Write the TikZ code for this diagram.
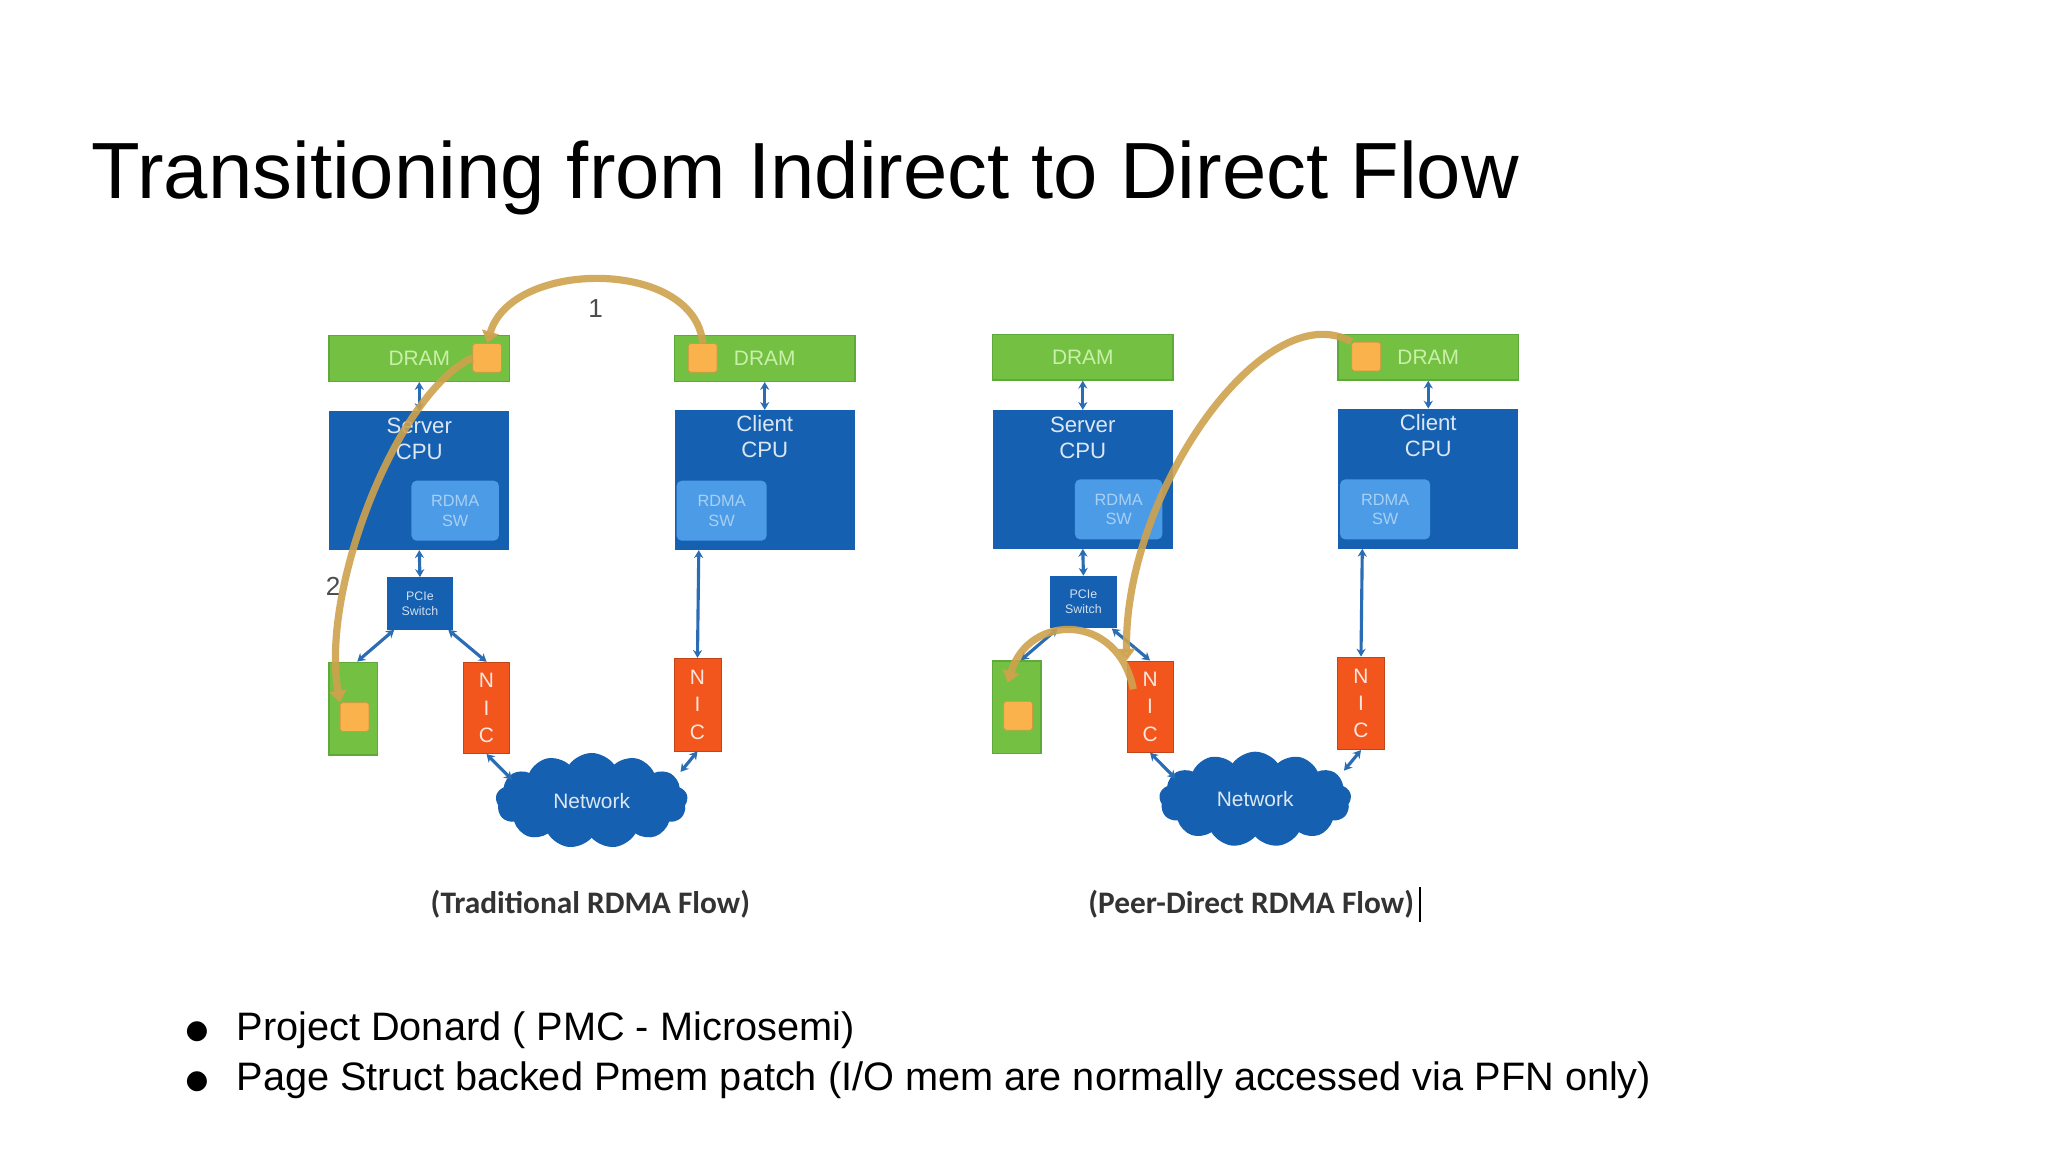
\documentclass[tikz,border=0pt]{standalone}
\usepackage{fontspec}
\setmainfont{Liberation Sans}
\newfontfamily\capfont{Carlito}
\newfontfamily\symfont{DejaVu Sans}
\usetikzlibrary{shapes.symbols,arrows.meta}
\definecolor{dgreen}{HTML}{74C043}
\definecolor{dgreenb}{HTML}{5FA83A}
\definecolor{lgtxt}{HTML}{C9F0A8}
\definecolor{cpublue}{HTML}{1560B0}
\definecolor{swblue}{HTML}{4C9BE6}
\definecolor{swtxt}{HTML}{A8D0F5}
\definecolor{nicor}{HTML}{F2561D}
\definecolor{sqor}{HTML}{F9B24C}
\definecolor{tan}{HTML}{CFA24E}
\definecolor{linkblue}{HTML}{2A6DB5}
\tikzset{
  greenbox/.style={draw=dgreenb,line width=1pt,fill=dgreen,inner sep=0,text=lgtxt,font=\fontsize{16}{18}\selectfont},
  cpubox/.style={fill=cpublue,inner sep=0,text=white!85!cpublue,font=\fontsize{17}{20}\selectfont,align=center},
  swbox/.style={fill=swblue,rounded corners=4pt,inner sep=0,text=swtxt,font=\fontsize{12.5}{15}\selectfont,align=center},
  pciebox/.style={fill=cpublue,inner sep=0,text=white!80!cpublue,font=\fontsize{9.5}{11.5}\selectfont,align=center},
  nicbox/.style={fill=nicor,draw=nicor!80!black,line width=0.6pt,inner sep=0,text=white!85!nicor,font=\fontsize{16}{21}\selectfont,align=center},
  sq/.style={fill=sqor,draw=sqor!85!black,line width=0.5pt,rounded corners=1.5pt,minimum width=22pt,minimum height=22pt,inner sep=0},
  netcloud/.style={cloud,cloud puffs=13,cloud puff arc=110,aspect=2,fill=cpublue,inner sep=0,minimum width=147pt,minimum height=73pt,text=white!85!cpublue,font=\fontsize{16}{18}\selectfont},
  link/.style={draw=linkblue,line width=2.4pt,{Stealth[length=6pt,width=7pt]}-{Stealth[length=6pt,width=7pt]}},
  flow/.style={draw=tan,line width=5.5pt,opacity=0.9,-{Triangle[length=9pt,width=13pt]}},
  captext/.style={font=\capfont\bfseries\fontsize{24}{28}\selectfont,text=black!80},
  bullet/.style={anchor=base west,font=\fontsize{30.4}{34}\selectfont,inner sep=0}
}
\newcommand\rdmapanel[1]{%
  \node[greenbox,minimum width=138pt,minimum height=35pt] (#1dram) at (321,274.5) {DRAM};
  \node[cpubox,minimum width=138pt,minimum height=106pt] (#1cpu) at (321,368) {};
  \node[cpubox,anchor=north] (#1cpulbl) at (321,320) {Server\\CPU};
  \node[swbox,minimum width=67pt,minimum height=46pt] (#1sw) at (348.5,391) {RDMA\\SW};
  \node[greenbox,minimum width=138pt,minimum height=35pt] (#1cdram) at (585.5,274.5) {};
  \node[text=lgtxt,font=\fontsize{16}{18}\selectfont] (#1cdramlbl) at (585.5,274.5) {DRAM};
  \node[cpubox,minimum width=138pt,minimum height=107pt] (#1ccpu) at (585.5,367.5) {};
  \node[cpubox,anchor=north] (#1ccpulbl) at (585.5,318) {Client\\CPU};
  \node[swbox,minimum width=69pt,minimum height=46pt] (#1csw) at (552.5,391) {RDMA\\SW};
  \node[pciebox,minimum width=51pt,minimum height=40pt] (#1pcie) at (321.5,462) {PCIe\\Switch};
  \node[greenbox,minimum width=37pt,minimum height=71pt] (#1gpu) at (270.5,542.5) {};
  \node[nicbox,minimum width=35pt,minimum height=70pt] (#1nic) at (372.5,542) {N\\I\\C};
  \node[nicbox,minimum width=36pt,minimum height=71pt] (#1cnic) at (534,539.5) {N\\I\\C};
  \node[netcloud] (#1net) at (453,613) {Network};
  \node[sq] (#1csq) at (538,274) {};
  \node[sq] (#1gsq) at (271.5,549) {};
  \draw[link] (#1dram.south) -- (#1cpu.north);
  \draw[link] (#1cdram.south) -- (#1ccpu.north);
  \draw[link] (#1cpu.south) -- (#1pcie.north);
  \path (#1pcie.south west) ++(6,0) coordinate (#1pa) (#1gpu.north) ++(3,0) coordinate (#1pb);
  \draw[link] (#1pa) -- (#1pb);
  \path (#1pcie.south east) ++(-4,0) coordinate (#1pc) (#1nic.north) coordinate (#1pd);
  \draw[link] (#1pc) -- (#1pd);
  \path (#1ccpu.south) ++(-50.5,0) coordinate (#1pe) (#1cnic.north) coordinate (#1pf);
  \draw[link] (#1pe) -- (#1pf);
  \path (#1nic.south) ++(0,0) coordinate (#1ng) (392,597) coordinate (#1nh);
  \draw[link] (#1ng) -- (#1nh);
  \path (#1cnic.south) coordinate (#1ni) (521,591) coordinate (#1nj);
  \draw[link] (#1ni) -- (#1nj);
}
\begin{document}
\begin{tikzpicture}[x=1pt,y=-1pt]
\useasboundingbox[fill=white] (0,0) rectangle (1568,882);
\node[anchor=base west,inner sep=0,font=\fontsize{61}{70}\selectfont] (title) at (70,152) {Transitioning from Indirect to Direct Flow};
% left panel
\begin{scope}
\rdmapanel{L}
\node[sq] (Lssq) at (373,274) {};
\node[font=\fontsize{20}{22}\selectfont,text=black!70] (Lone) at (456,236) {1};
\node[font=\fontsize{20}{22}\selectfont,text=black!70] (Ltwo) at (255,449) {2};
\draw[flow] (Lcsq.north) .. controls (532,198) and (392,198) .. (Lssq.north);
\draw[flow] (Lssq.west) .. controls (305,300) and (245,450) .. (Lgsq.north west);
\node[captext] (Lcap) at (452,692) {(Traditional RDMA Flow)};
\end{scope}
% right panel
\begin{scope}[shift={(508,-1)}]
\rdmapanel{R}
\draw[flow] (Rcsq.north west) .. controls (460,225) and (352,380) .. (Rnic.north west);
\path (Rnic.north west) ++(5,22) coordinate (Rna) (Rgsq.north) ++(-8,-14) coordinate (Rgb);
\draw[flow] (Rna) .. controls (348,470) and (280,470) .. (Rgb);
\node[captext] (Rcap) at (450,693) {(Peer-Direct RDMA Flow)};
\path (Rcap.east) ++(1,-13) coordinate (Rcur1) ++(0,27) coordinate (Rcur2);
\draw[black,line width=1pt] (Rcur1) -- (Rcur2);
\end{scope}
\node[bullet,font=\symfont\fontsize{20}{24}\selectfont] (b1) at (142,795) {●};
\node[bullet] (t1) at (181,797) {Project Donard ( PMC - Microsemi)};
\node[bullet,font=\symfont\fontsize{20}{24}\selectfont] (b2) at (142,833) {●};
\node[bullet] (t2) at (181,835) {Page Struct backed Pmem patch (I/O mem are normally accessed via PFN only)};
\end{tikzpicture}
\end{document}
